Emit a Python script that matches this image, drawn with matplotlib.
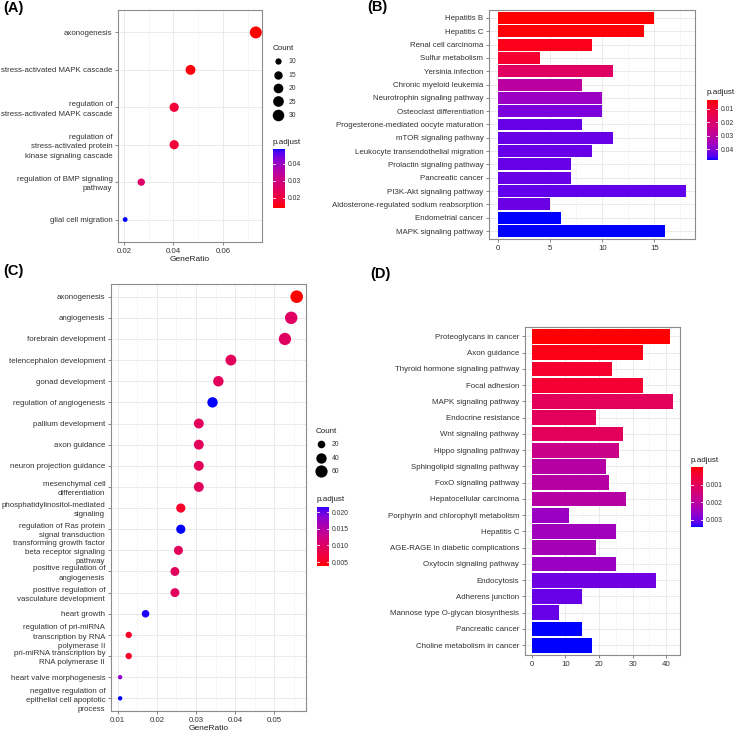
import numpy as np
import matplotlib
matplotlib.use('Agg')
import matplotlib.pyplot as plt
from matplotlib.colors import ListedColormap, Normalize
from matplotlib.lines import Line2D
from matplotlib.ticker import MultipleLocator

plt.rcParams['font.family'] = ['Liberation Sans', 'DejaVu Sans']

# ---- panel A: GO dotplot ----
a_terms = ["axonogenesis", "stress-activated MAPK cascade",
           "regulation of\nstress-activated MAPK cascade",
           "regulation of\nstress-activated protein\nkinase signaling cascade",
           "regulation of BMP signaling\npathway", "glial cell migration"]
a_ratio = [0.0733, 0.0469, 0.0403, 0.0403, 0.0270, 0.0205]
a_count = [33, 21, 18, 18, 12, 9]
a_padj = [0.0141, 0.0148, 0.0193, 0.0193, 0.0262, 0.0486]

# ---- panel B: KEGG barplot ----
b_terms = ["Hepatitis B", "Hepatitis C", "Renal cell carcinoma", "Sulfur metabolism",
           "Yersinia infection", "Chronic myeloid leukemia", "Neurotrophin signaling pathway",
           "Osteoclast differentiation", "Progesterone-mediated oocyte maturation",
           "mTOR signaling pathway", "Leukocyte transendothelial migration",
           "Prolactin signaling pathway", "Pancreatic cancer", "PI3K-Akt signaling pathway",
           "Aldosterone-regulated sodium reabsorption", "Endometrial cancer",
           "MAPK signaling pathway"]
b_count = [15, 14, 9, 4, 11, 8, 10, 10, 8, 11, 9, 7, 7, 18, 5, 6, 16]
b_padj = [0.0033, 0.0037, 0.0055, 0.0087, 0.0181, 0.0301, 0.0368, 0.0413, 0.0435,
          0.0435, 0.0435, 0.0435, 0.0435, 0.0440, 0.0431, 0.0480, 0.0480]

# ---- panel C: GO dotplot ----
c_terms = ["axonogenesis", "angiogenesis", "forebrain development",
           "telencephalon development", "gonad development", "regulation of angiogenesis",
           "pallium development", "axon guidance", "neuron projection guidance",
           "mesenchymal cell\ndifferentiation", "phosphatidylinositol-mediated\nsignaling",
           "regulation of Ras protein\nsignal transduction",
           "transforming growth factor\nbeta receptor signaling\npathway",
           "positive regulation of\nangiogenesis",
           "positive regulation of\nvasculature development", "heart growth",
           "regulation of pri-miRNA\ntranscription by RNA\npolymerase II",
           "pri-miRNA transcription by\nRNA polymerase II", "heart valve morphogenesis",
           "negative regulation of\nepithelial cell apoptotic\nprocess"]
c_ratio = [0.0557, 0.0543, 0.0527, 0.0389, 0.0357, 0.0342, 0.0307, 0.0307, 0.0307,
           0.0307, 0.0261, 0.0261, 0.0255, 0.0246, 0.0246, 0.0171, 0.0128, 0.0128,
           0.0106, 0.0106]
c_count = [65, 63, 61, 45, 41, 40, 36, 36, 36, 36, 30, 30, 29, 28, 28, 20, 15, 15, 12, 12]
c_padj = [0.0039, 0.0098, 0.0098, 0.0092, 0.0092, 0.0217, 0.0092, 0.0092, 0.0092,
          0.0092, 0.0057, 0.0217, 0.0092, 0.0092, 0.0092, 0.0215, 0.0057, 0.0057,
          0.0181, 0.0217]

# ---- panel D: KEGG barplot ----
d_terms = ["Proteoglycans in cancer", "Axon guidance", "Thyroid hormone signaling pathway",
           "Focal adhesion", "MAPK signaling pathway", "Endocrine resistance",
           "Wnt signaling pathway", "Hippo signaling pathway", "Sphingolipid signaling pathway",
           "FoxO signaling pathway", "Hepatocellular carcinoma",
           "Porphyrin and chlorophyll metabolism", "Hepatitis C",
           "AGE-RAGE in diabetic complications", "Oxytocin signaling pathway", "Endocytosis",
           "Adherens junction", "Mannose type O-glycan biosynthesis", "Pancreatic cancer",
           "Choline metabolism in cancer"]
d_count = [41, 33, 24, 33, 42, 19, 27, 26, 22, 23, 28, 11, 25, 19, 25, 37, 15, 8, 15, 18]
d_padj = [0.00001, 0.00015, 0.00042, 0.00045, 0.00103, 0.00103, 0.00103, 0.00170,
          0.00211, 0.00211, 0.00211, 0.00255, 0.00245, 0.00238, 0.00255, 0.00299,
          0.00306, 0.00306, 0.00340, 0.00340]

W, H = 735, 731
fig = plt.figure(figsize=(W / 100, H / 100), dpi=100)
TXT = '#333333'

# red -> blue gradient interpolated in Lab, like ggplot's default
M = np.array([[0.4124, 0.3576, 0.1805], [0.2126, 0.7152, 0.0722], [0.0193, 0.1192, 0.9505]])
WP = np.array([0.95047, 1.0, 1.08883])


def rgb_to_lab(rgb):
    c = np.asarray(rgb, float)
    lin = np.where(c <= 0.04045, c / 12.92, ((c + 0.055) / 1.055) ** 2.4)
    xyz = M @ lin / WP
    f = np.where(xyz > (6 / 29) ** 3, np.cbrt(xyz), xyz / (3 * (6 / 29) ** 2) + 4 / 29)
    return np.array([116 * f[1] - 16, 500 * (f[0] - f[1]), 200 * (f[1] - f[2])])


def lab_to_rgb(lab):
    L, a, b = lab
    fy = (L + 16) / 116
    f = np.array([fy + a / 500, fy, fy - b / 200])
    xyz = np.where(f > 6 / 29, f ** 3, 3 * (6 / 29) ** 2 * (f - 4 / 29)) * WP
    lin = np.clip(np.linalg.solve(M, xyz), 0, 1)
    c = np.where(lin <= 0.0031308, 12.92 * lin, 1.055 * lin ** (1 / 2.4) - 0.055)
    return np.clip(c, 0, 1)


lo, hi = rgb_to_lab((1, 0, 0)), rgb_to_lab((0, 0, 1))
cmap = ListedColormap([lab_to_rgb(lo + t * (hi - lo)) for t in np.linspace(0, 1, 256)])


def px_axes(x0, y0, x1, y1):
    return fig.add_axes([x0 / W, 1 - y1 / H, (x1 - x0) / W, (y1 - y0) / H])


def style(ax, minor):
    for s in ax.spines.values():
        s.set_color('#8c8c8c')
        s.set_linewidth(0.8)
    ax.xaxis.set_minor_locator(MultipleLocator(minor))
    ax.grid(which='major', color='#e6e6e6', lw=0.6)
    ax.grid(which='minor', axis='x', color='#f0f0f0', lw=0.4)
    ax.set_axisbelow(True)
    ax.tick_params(length=2.5, width=0.5, color='#555555', labelsize=5.7,
                   labelcolor=TXT, pad=1.5)
    ax.tick_params(which='minor', length=0)


def colorbar(box, vmin, vmax, ticks, labels, reverse):
    cax = px_axes(*box)
    grad = np.linspace(vmin, vmax, 200)[:, None]
    cax.imshow(grad, aspect='auto', cmap=cmap, extent=[0, 1, vmin, vmax], origin='lower')
    cax.set_xlim(0, 1)
    cax.set_ylim((vmax, vmin) if reverse else (vmin, vmax))
    for t in ticks:
        cax.plot([0, 0.2], [t, t], color='white', lw=0.6)
        cax.plot([0.8, 1], [t, t], color='white', lw=0.6)
    cax.set_xticks([])
    cax.yaxis.tick_right()
    cax.set_yticks(ticks, labels)
    cax.tick_params(length=0, labelsize=4.9, labelcolor=TXT, pad=2)
    for s in cax.spines.values():
        s.set_visible(False)
    fig.text(box[0] / W, 1 - (box[1] - 7) / H, 'p.adjust', fontsize=5.8, color='#222222',
             va='center', ha='left')


def size_px(c, cmin, cmax, dmin, dmax):
    return dmin + (dmax - dmin) * np.sqrt((np.asarray(c, float) - cmin) / (cmax - cmin))


def dotplot(box, terms, ratio, count, padj, xlim, major, minor, drange):
    ax = px_axes(*box)
    n = len(terms)
    y = np.arange(n)[::-1]
    cmin, cmax = min(count), max(count)
    d = size_px(count, cmin, cmax, *drange)
    norm = Normalize(min(padj), max(padj))
    ax.scatter(ratio, y, s=(d * 0.72) ** 2, c=padj, cmap=cmap, norm=norm,
               edgecolors='none', zorder=3)
    ax.set_ylim(-0.6, n - 0.4)
    ax.set_yticks(y, terms, linespacing=1.45)
    ax.set_xlim(*xlim)
    ax.xaxis.set_major_locator(MultipleLocator(major))
    style(ax, minor)
    ax.set_xlabel('GeneRatio', fontsize=6, color='#222222', labelpad=1)
    return ax, cmin, cmax


def count_legend(anchor, breaks, cmin, cmax, drange):
    d = size_px(breaks, cmin, cmax, *drange)
    handles = [Line2D([], [], ls='none', marker='o', color='black', markeredgewidth=0,
                      markersize=di * 0.72) for di in d]
    leg = fig.legend(handles, [str(b) for b in breaks], title='Count', loc='upper left',
                     bbox_to_anchor=(anchor[0] / W, 1 - anchor[1] / H), frameon=False,
                     fontsize=4.9, title_fontsize=5.8, labelspacing=0.95,
                     handletextpad=0.7, handlelength=1.6, borderaxespad=0, borderpad=0,
                     alignment='left')
    for t in leg.get_texts():
        t.set_color(TXT)
    leg.get_title().set_color('#222222')


def barplot(box, terms, count, padj, major, minor):
    ax = px_axes(*box)
    n = len(terms)
    y = np.arange(n)[::-1]
    norm = Normalize(min(padj), max(padj))
    ax.barh(y, count, height=0.9, color=cmap(norm(np.array(padj))), zorder=3)
    ax.set_ylim(-0.6, n - 0.4)
    ax.set_yticks(y, terms)
    pad = 0.05 * max(count)
    ax.set_xlim(-pad, max(count) + pad)
    ax.xaxis.set_major_locator(MultipleLocator(major))
    style(ax, minor)
    return ax


# panel A
axA, cA0, cA1 = dotplot((118, 10, 262, 242), a_terms, a_ratio, a_count, a_padj,
                        (0.0176, 0.0758), 0.02, 0.01, (4.8, 12.0))
count_legend((273, 45), [10, 15, 20, 25, 30], cA0, cA1, (4.8, 12.0))
colorbar((273, 149, 285, 208), min(a_padj), max(a_padj), [0.02, 0.03, 0.04],
         ['0.02', '0.03', '0.04'], False)

# panel B
axB = barplot((489, 10, 695, 239), b_terms, b_count, b_padj, 5, 2.5)
colorbar((707, 100, 718, 160), min(b_padj), max(b_padj), [0.01, 0.02, 0.03, 0.04],
         ['0.01', '0.02', '0.03', '0.04'], True)

# panel C
axC, cC0, cC1 = dotplot((110.7, 284, 305.7, 711), c_terms, c_ratio, c_count, c_padj,
                        (0.0082, 0.058), 0.01, 0.005, (4.4, 12.6))
count_legend((316, 428), [20, 40, 60], cC0, cC1, (4.4, 12.6))
colorbar((317, 506.7, 329, 565.7), min(c_padj), max(c_padj), [0.005, 0.010, 0.015, 0.020],
         ['0.005', '0.010', '0.015', '0.020'], False)

# panel D
axD = barplot((524.7, 326.7, 680, 655), d_terms, d_count, d_padj, 10, 5)
colorbar((691, 467.3, 703, 526.7), min(d_padj), max(d_padj), [0.001, 0.002, 0.003],
         ['0.001', '0.002', '0.003'], True)

for lbl, x, y in [('(A)', 3, 8), ('(B)', 367, 7), ('(C)', 3, 271), ('(D)', 370, 274)]:
    fig.text(x / W, 1 - y / H, lbl, fontsize=10.5, fontweight='bold', va='center', ha='left')

fig.savefig('out.png', dpi=100, facecolor='white')
